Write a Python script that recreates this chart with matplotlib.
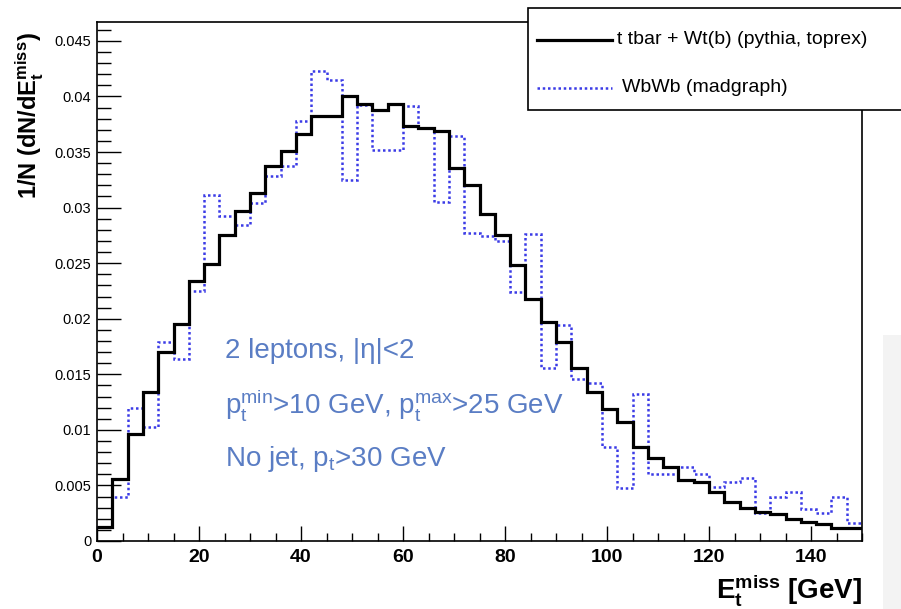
import numpy as np
import matplotlib
matplotlib.use('Agg')
import matplotlib.pyplot as plt
from matplotlib.lines import Line2D
from matplotlib.patches import Rectangle

# 字体设置：类似 ROOT 的 Helvetica
plt.rcParams['font.family'] = ['Liberation Sans', 'DejaVu Sans']
plt.rcParams['mathtext.fontset'] = 'custom'
plt.rcParams['mathtext.rm'] = 'Liberation Sans'
plt.rcParams['mathtext.bf'] = 'Liberation Sans:bold'
plt.rcParams['mathtext.it'] = 'Liberation Sans'

# 直方图分箱 (GeV)
bin_edges = np.arange(0, 151, 3)

# t tbar + Wt(b) (pythia, toprex)
ttbar = [0.0013, 0.0056, 0.0096, 0.0134, 0.0170, 0.0195, 0.0234, 0.0249, 0.0275, 0.0297,
         0.0313, 0.0337, 0.0351, 0.0366, 0.0382, 0.0382, 0.0400, 0.0393, 0.0388, 0.0393,
         0.0373, 0.0372, 0.0369, 0.0336, 0.0320, 0.0294, 0.0275, 0.0248, 0.0218, 0.0197,
         0.0179, 0.0156, 0.0134, 0.0119, 0.0107, 0.0085, 0.0075, 0.0067, 0.0055, 0.0053,
         0.0044, 0.0035, 0.0030, 0.0026, 0.0024, 0.0020, 0.0017, 0.0015, 0.0012, 0.0012]

# WbWb (madgraph)
wbwb = [0.0013, 0.0040, 0.0120, 0.0103, 0.0179, 0.0164, 0.0225, 0.0311, 0.0292, 0.0284,
        0.0304, 0.0328, 0.0337, 0.0378, 0.0423, 0.0415, 0.0325, 0.0392, 0.0352, 0.0352,
        0.0391, 0.0372, 0.0305, 0.0364, 0.0277, 0.0274, 0.0270, 0.0224, 0.0276, 0.0156,
        0.0194, 0.0146, 0.0142, 0.0085, 0.0048, 0.0132, 0.0060, 0.0060, 0.0067, 0.0060,
        0.0049, 0.0053, 0.0057, 0.0025, 0.0040, 0.0044, 0.0029, 0.0025, 0.0040, 0.0016]

legend_labels = ['t tbar + Wt(b) (pythia, toprex)', 'WbWb (madgraph)']
cut_lines = [r'2 leptons, |η|<2',
             r'$\mathrm{p}_\mathrm{t}^\mathrm{min}$>10 GeV, $\mathrm{p}_\mathrm{t}^\mathrm{max}$>25 GeV',
             r'No jet, $\mathrm{p}_\mathrm{t}$>30 GeV']

W, H = 901, 609
fig = plt.figure(figsize=(W / 100, H / 100), dpi=100)
fig.patch.set_facecolor('white')

# 右下角残留的灰色区域
fig.patches.append(Rectangle((883 / W, 0), 18 / W, 1 - 335 / H, transform=fig.transFigure,
                             facecolor='#f3f3f3', edgecolor='none', zorder=0))

ax = fig.add_axes([97 / W, 1 - 541 / H, 765 / W, 519 / H])

ax.stairs(wbwb, bin_edges, baseline=None, color='#3b3be6', lw=1.8,
          linestyle=(0, (1, 1.1)), zorder=2)
ax.stairs(ttbar, bin_edges, baseline=None, color='black', lw=2.3, zorder=3)

ax.set_xlim(0, 150)
ax.set_ylim(0, 0.0467)
ax.set_xticks(np.arange(0, 141, 20))
ax.set_xticks(np.arange(0, 151, 5), minor=True)
ax.set_yticks(np.arange(0, 0.0451, 0.005))
ax.set_yticks(np.arange(0, 0.0466, 0.001), minor=True)
ax.set_yticklabels(['0'] + ['%g' % v for v in np.arange(0.005, 0.0451, 0.005)])

for s in ax.spines.values():
    s.set_linewidth(1.2)

ax.tick_params(which='both', direction='in', width=1.0)
ax.tick_params(axis='y', which='major', length=17, labelsize=10.5, pad=4)
ax.tick_params(axis='y', which='minor', length=10)
ax.tick_params(axis='x', which='major', length=11, labelsize=14, pad=6)
ax.tick_params(axis='x', which='minor', length=6)
for lab in ax.get_xticklabels():
    lab.set_fontweight('bold')

# 选择条件文字
for i, t in enumerate(cut_lines):
    ax.text(0.167, 0.366 - i * 0.104, t, transform=ax.transAxes, ha='left', va='center',
            fontsize=20, color='#5a7dc4')

# 坐标轴标题
fig.text(862 / W, 1 - 598 / H, r'$\mathbf{E}_\mathbf{t}^\mathbf{miss}$ [GeV]',
         ha='right', va='baseline', fontsize=20, fontweight='bold')
fig.text(30 / W, 1 - 32 / H, r'1/N (dN/dE$_\mathbf{t}^\mathbf{miss}$)', rotation=90,
         ha='center', va='top', fontsize=17, fontweight='bold')

# 图例 (手动绘制，右边超出画布)
fig.patches.append(Rectangle((528 / W, 1 - 110 / H), 400 / W, 102 / H, transform=fig.transFigure,
                             facecolor='white', edgecolor='black', lw=1.2, zorder=5))
fig.lines.append(Line2D([537 / W, 612 / W], [1 - 40 / H, 1 - 40 / H], transform=fig.transFigure,
                        color='black', lw=2.3, zorder=6))
fig.lines.append(Line2D([537 / W, 612 / W], [1 - 88 / H, 1 - 88 / H], transform=fig.transFigure,
                        color='#3b3be6', lw=1.8, linestyle=(0, (1, 1.1)), zorder=6))
fig.text(617 / W, 1 - 40 / H, legend_labels[0], ha='left', va='center', fontsize=14, zorder=7)
fig.text(622 / W, 1 - 88 / H, legend_labels[1], ha='left', va='center', fontsize=14, zorder=7)

fig.savefig('out.png', dpi=100)
